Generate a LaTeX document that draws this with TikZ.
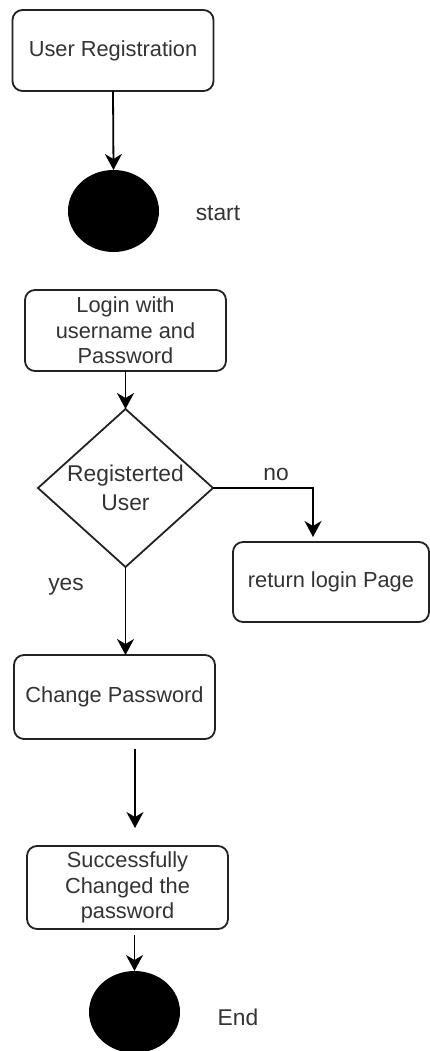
\documentclass[tikz,border=0pt]{standalone}
\usepackage{fontspec}
\setmainfont{Liberation Sans}
\usetikzlibrary{shapes.geometric,arrows.meta,calc}
\definecolor{ink}{HTML}{333333}
\definecolor{edge}{HTML}{222222}
\begin{document}
\begin{tikzpicture}[x=1pt,y=-1pt,
  box/.style={draw=edge, line width=1.8pt, rounded corners=10pt, fill=white,
    align=center, text=ink, font=\fontsize{21.8}{25.5}\selectfont,
    inner sep=0pt, outer sep=0pt, minimum width=201pt},
  dot/.style={ellipse, fill=black, minimum width=91pt, minimum height=82pt,
    inner sep=0pt, outer sep=0pt},
  lbl/.style={text=ink, font=\fontsize{22.8}{29}\selectfont, inner sep=0pt, align=center},
  flow/.style={draw=black, line width=1.8pt, -{Stealth[length=16pt,width=17pt,inset=5pt]}}
]
\useasboundingbox (0,0) rectangle (430,1051);

% activity boxes
\node[box, minimum height=81pt] (reg) at (113,50.5) {User Registration};
\node[box, minimum height=81pt] (login) at (125.5,330.5) {Login with\\username and\\Password};
\node[box, minimum width=196pt, minimum height=80pt] (ret) at (331,582) {return login Page};
\node[box, minimum height=84pt] (chg) at (114.5,697) {Change Password};
\node[box, minimum height=83pt] (succ) at (127.5,887.5) {Successfully\\Changed the\\password};

% decision
\node[diamond, draw=edge, line width=1.8pt, minimum width=175pt, minimum height=158pt,
  inner sep=0pt, outer sep=0pt] (dec) at (125.5,488) {};
\node[lbl] (dectext) at (125.5,488) {Registerted\\User};

% start and end markers
\node[dot] (st) at (113.5,211) {};
\node[dot] (endc) at (134.5,1012) {};

% labels
\node[lbl] (stlbl) at (218,213) {start};
\node[lbl] (endlbl) at (238,1017) {End};
\node[lbl] (nolbl) at (276,474) {no};
\node[lbl] (yeslbl) at (66,587) {yes};

% helper points
\coordinate (nodrop) at (313,0);
\coordinate (fa) at (135,749);
\coordinate (fb) at (135,828);

% connectors
\draw[flow] (reg.south) -- (st.north);
\draw[flow] (login.south) -- (dec.north);
\draw[flow] (dec.east) -| ([yshift=5pt]nodrop |- ret.north);
\draw[flow] (dec.south) -- (dec.south |- chg.north);
\draw[flow] (fa) -- (fb);
\draw[flow] ([yshift=-6pt]endc.north |- succ.south) -- (endc.north);
\end{tikzpicture}
\end{document}
